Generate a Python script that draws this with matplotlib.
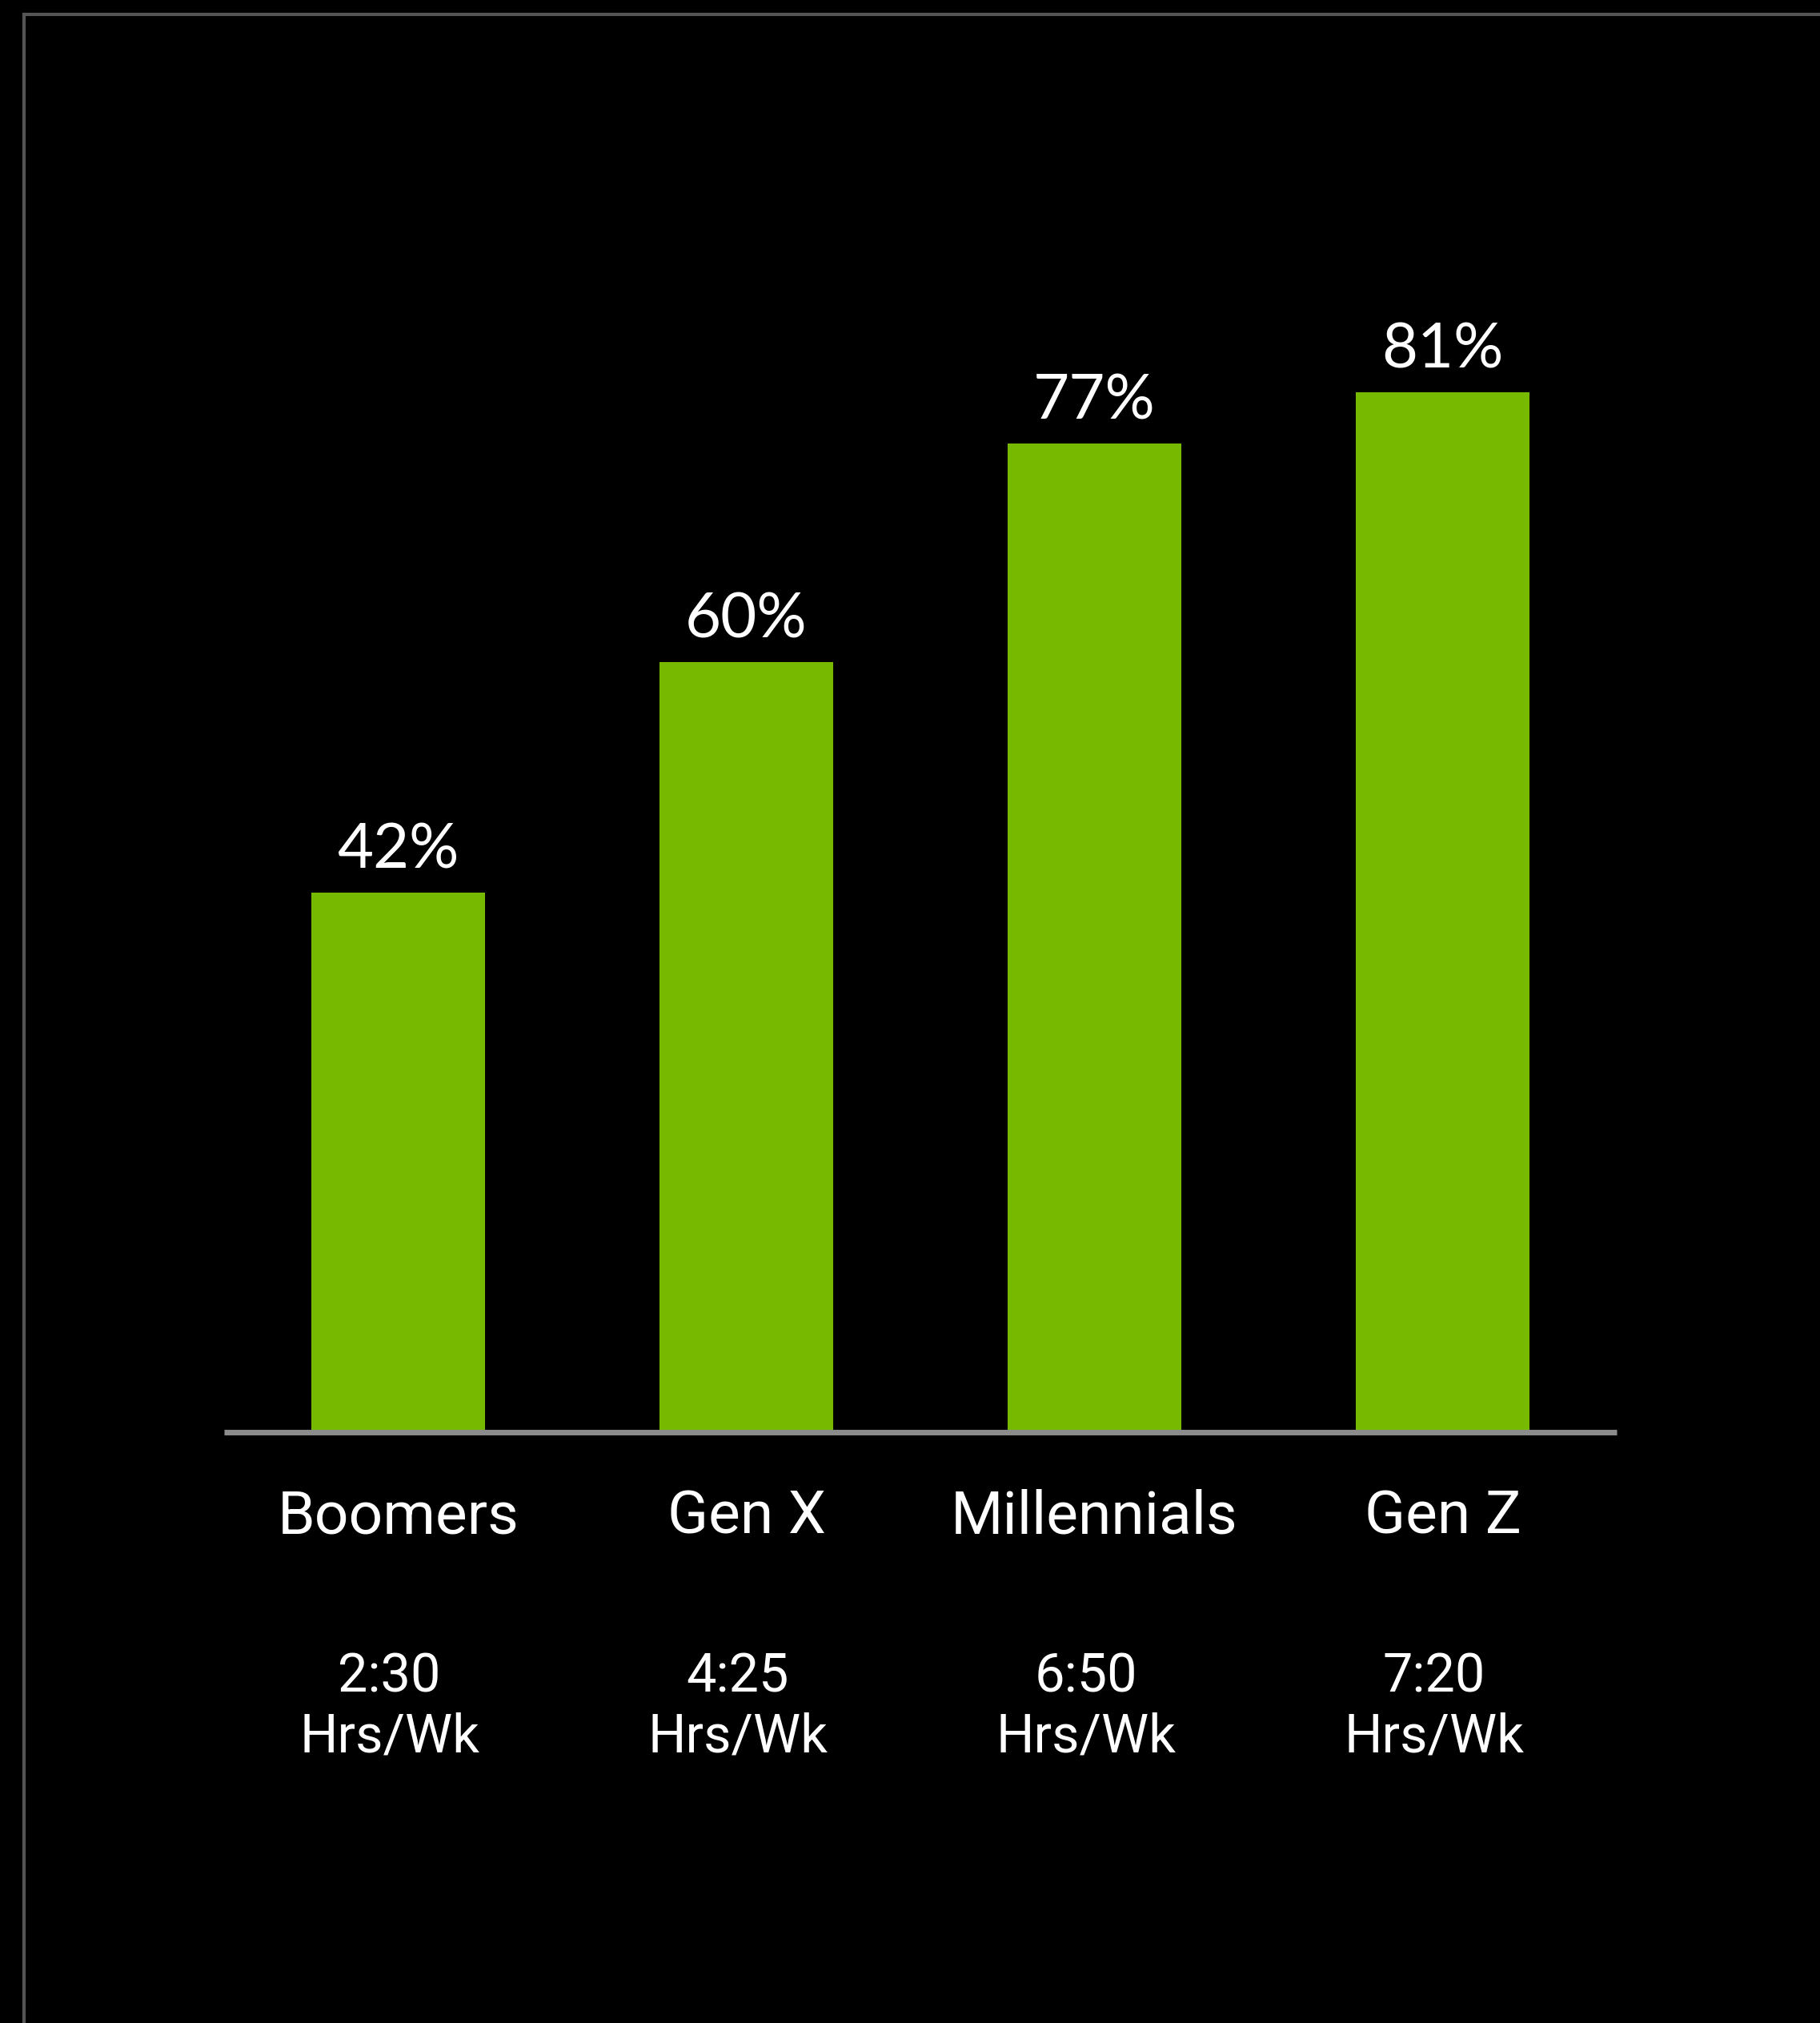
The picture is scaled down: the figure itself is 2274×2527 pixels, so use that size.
import matplotlib
matplotlib.use("Agg")
import matplotlib.pyplot as plt
from matplotlib.lines import Line2D
from matplotlib.transforms import blended_transform_factory

categories = ["Boomers", "Gen X", "Millennials", "Gen Z"]
percent = [42, 60, 77, 81]
hours = ["2:30", "4:25", "6:50", "7:20"]
unit_label = "Hrs/Wk"

W, H = 2274, 2527
DPI = 100
plt.rcParams['font.family'] = ['Roboto', 'DejaVu Sans']

fig = plt.figure(figsize=(W / DPI, H / DPI), dpi=DPI, facecolor="black")

# border lines (top and left)
fig.add_artist(Line2D([30 / W, 1.0], [1 - 18 / H, 1 - 18 / H], color="#555555", lw=3.0,
                      transform=fig.transFigure))
fig.add_artist(Line2D([30 / W, 30 / W], [0.0, 1 - 18 / H], color="#555555", lw=3.0,
                      transform=fig.transFigure))

ax_bottom = 1 - 1789 / H
ax_top = 1 - 185 / H
ax = fig.add_axes([280 / W, ax_bottom, (2020 - 280) / W, ax_top - ax_bottom])
ax.set_facecolor("black")
x = list(range(len(categories)))
ax.bar(x, percent, width=0.5, color="#76b900", zorder=2)
ax.set_xlim(-0.5, 3.5)
ax.set_ylim(0, 100)
for s in ["top", "right", "left"]:
    ax.spines[s].set_visible(False)
ax.spines["bottom"].set_color("#8c8c8c")
ax.spines["bottom"].set_linewidth(5)
ax.spines["bottom"].set_capstyle("butt")
ax.spines["bottom"].set_zorder(3)
ax.set_xticks([])
ax.set_yticks([])

for xi, v in zip(x, percent):
    ax.annotate(f"{v}%", (xi, v), xytext=(0, 22), textcoords="offset points",
                ha="center", va="baseline", color="white", fontsize=56,
                family=['Lato', 'DejaVu Sans'])

trans = blended_transform_factory(ax.transData, fig.transFigure)
for xi, c, h in zip(x, categories, hours):
    ax.text(xi, 1 - 1915 / H, c, transform=trans, ha="center", va="baseline",
            color="white", fontsize=54)
    ax.text(xi - 0.025, 1 - 2114 / H, h, transform=trans, ha="center", va="baseline",
            color="white", fontsize=48)
    ax.text(xi - 0.025, 1 - 2189 / H, unit_label, transform=trans, ha="center", va="baseline",
            color="white", fontsize=48)

fig.savefig("out.png", dpi=DPI, facecolor="black")
